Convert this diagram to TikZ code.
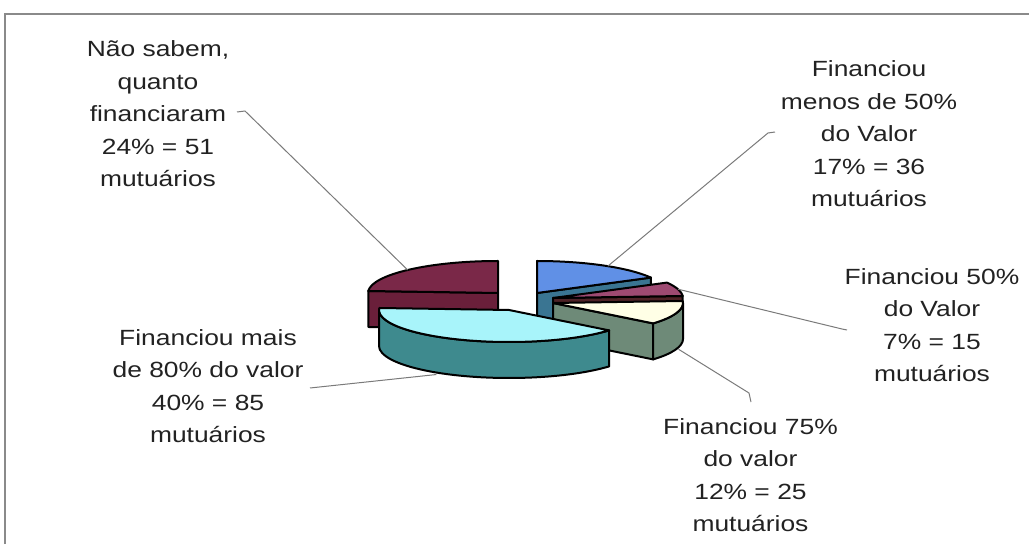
\documentclass[tikz,border=0pt]{standalone}
\usepackage{fontspec}
\setmainfont{Liberation Sans}[FakeStretch=1.2]
\usetikzlibrary{calc}
\definecolor{redtop}{HTML}{7A2848}
\definecolor{redside}{HTML}{6A1F3A}
\definecolor{bluetop}{HTML}{6090E6}
\definecolor{blueside}{HTML}{3A7592}
\definecolor{magtop}{HTML}{9E4A72}
\definecolor{magside}{HTML}{4E2226}
\definecolor{creamtop}{HTML}{FFFFE6}
\definecolor{creamside}{HTML}{6E8A78}
\definecolor{cyantop}{HTML}{A8F4FA}
\definecolor{cyanside}{HTML}{3E8A8E}
\definecolor{textgray}{HTML}{222222}
\definecolor{leadergray}{HTML}{7A7A7A}
\definecolor{framegray}{HTML}{8A8A8A}
\begin{document}
\begin{tikzpicture}[x=1pt,y=1pt,
  rim/.style={draw=black, line width=2pt, line join=round},
  leader/.style={draw=leadergray, line width=1pt},
  % multi-line labels: the base anchor sits on the last line's baseline
  lbl/.style={align=center, inner sep=0pt, text=textgray,
              font=\fontsize{22}{32.5}\selectfont, anchor=base},
  frameline/.style={draw=framegray, line width=1.3pt}]
\useasboundingbox (0,0) rectangle (1029,544);

% chart frame (top and left edges)
\draw[frameline] (5,0) -- (5,530) -- (1029,530);

% slice: nao sabem (24%)
\begin{scope}[shift={(498,251)}]
  \filldraw[rim, fill=redside] (0,0) -- (176.4:130 and 32) -- ++(0,-36) -- (0,-36) -- cycle;
  \filldraw[rim, fill=redtop] (0,0) -- (90:130 and 32)
    arc[start angle=90, end angle=176.4, x radius=130, y radius=32] -- cycle;
  \coordinate (redtip) at (134:130 and 32);
\end{scope}

% slice: menos de 50% (17%)
\begin{scope}[shift={(537,251)}]
  \filldraw[rim, fill=blueside] (0,0) -- (28.8:130 and 32) -- ++(0,-36) -- (0,-36) -- cycle;
  \filldraw[rim, fill=bluetop] (0,0) -- (28.8:130 and 32)
    arc[start angle=28.8, end angle=90, x radius=130, y radius=32] -- cycle;
  \coordinate (bluetip) at (57:130 and 32);
\end{scope}

% slice: 50% (7%)
\begin{scope}[shift={(553,246)}]
  \filldraw[rim, fill=magside] (0,0) -- (3.6:130 and 32) -- ++(0,-36) -- (0,-36) -- cycle;
  \filldraw[rim, fill=magtop] (0,0) -- (3.6:130 and 32)
    arc[start angle=3.6, end angle=28.8, x radius=130, y radius=32] -- cycle;
  \coordinate (magtip) at (16:130 and 32);
\end{scope}

% slice: 75% (12%)
\begin{scope}[shift={(553,241)}]
  \filldraw[rim, fill=creamside] (0,0) -- (-39.6:130 and 32) -- ++(0,-36) -- (0,-36) -- cycle;
  \filldraw[rim, fill=creamside] (-39.6:130 and 32)
    arc[start angle=-39.6, end angle=0, x radius=130, y radius=32] -- ++(0,-36)
    arc[start angle=0, end angle=-39.6, x radius=130, y radius=32] -- cycle;
  \filldraw[rim, fill=creamtop] (0,0) -- (-39.6:130 and 32)
    arc[start angle=-39.6, end angle=3.6, x radius=130, y radius=32] -- cycle;
  \coordinate (creamtip) at ($(-15:130 and 32)+(0,-38)$);
\end{scope}

% slice: mais de 80% (40%)
\begin{scope}[shift={(509,234)}]
  \filldraw[rim, fill=cyanside] (180:130 and 32)
    arc[start angle=180, end angle=320.4, x radius=130, y radius=32] -- ++(0,-36)
    arc[start angle=320.4, end angle=180, x radius=130, y radius=32] -- cycle;
  \filldraw[rim, fill=cyantop] (0,0) -- (176.4:130 and 32)
    arc[start angle=176.4, end angle=320.4, x radius=130, y radius=32] -- cycle;
  \coordinate (cyantip) at ($(236:130 and 32)+(0,-38)$);
\end{scope}

% labels
\node[lbl] (naosabem) at (158,357) {Não sabem,\\quanto\\financiaram\\24\% = 51\\mutuários};
\node[lbl] (menos50) at (869,337.3) {Financiou\\menos de 50\%\\do Valor\\17\% = 36\\mutuários};
\node[lbl] (igual50) at (932,162.3) {Financiou 50\%\\do Valor\\7\% = 15\\mutuários};
\node[lbl] (mais80) at (208,101) {Financiou mais\\de 80\% do valor\\40\% = 85\\mutuários};
\node[lbl] (p75) at (750.5,12.3) {Financiou 75\%\\do valor\\12\% = 25\\mutuários};

% leader lines
\coordinate (naoHook) at (237,432);
\coordinate (naoBend) at (245,433);
\coordinate (menosHook) at (775,412);
\coordinate (menosBend) at (768,411);
\coordinate (igualHook) at (847,214);
\coordinate (igualBend) at (842,215);
\coordinate (p75Hook) at (751,142);
\coordinate (p75Bend) at (749,151);
\coordinate (maisHook) at (310,156);

\draw[leader] (naoHook) -- (naoBend) -- (redtip);
\draw[leader] (menosHook) -- (menosBend) -- (bluetip);
\draw[leader] (igualHook) -- (igualBend) -- (magtip);
\draw[leader] (p75Hook) -- (p75Bend) -- (creamtip);
\draw[leader] (maisHook) -- (cyantip);
\end{tikzpicture}
\end{document}
